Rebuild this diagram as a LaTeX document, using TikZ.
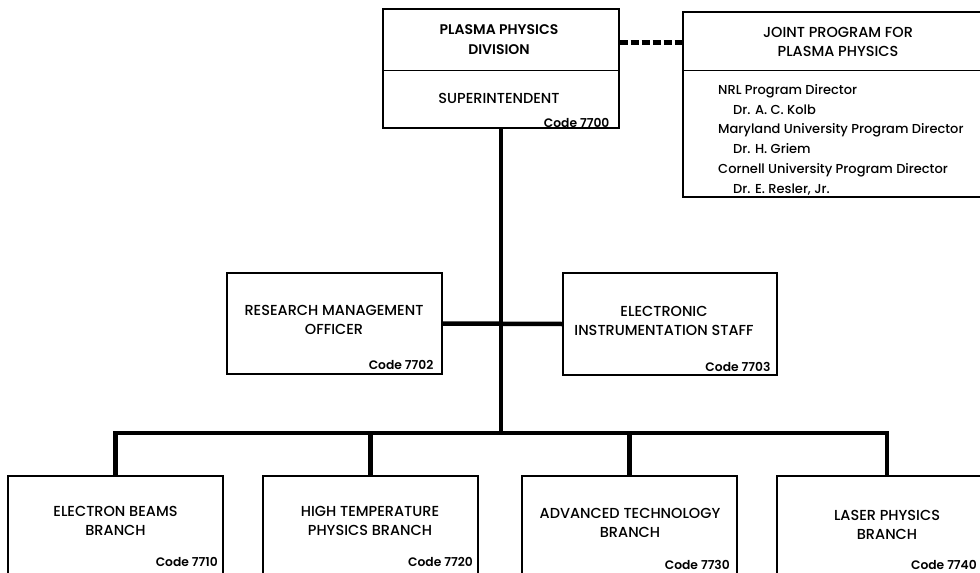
\documentclass[tikz,border=0pt]{standalone}
\usepackage{fontspec}
\setmainfont{Poppins}[UprightFont=*-Medium, BoldFont=*-SemiBold]
\usetikzlibrary{positioning,calc}

\begin{document}
\begin{tikzpicture}[x=1pt, y=-1pt,
  box/.style={draw, line width=1.2pt, inner sep=0pt},
  title/.style={align=center, inner sep=0pt, font=\fontsize{14.5}{19}\selectfont},
  head/.style={align=center, inner sep=0pt, font=\bfseries\fontsize{14}{20}\selectfont},
  code/.style={anchor=east, inner sep=0pt, font=\bfseries\fontsize{12.3}{13}\selectfont},
  names/.style={align=left, anchor=north west, inner sep=0pt, font=\fontsize{13}{19.8}\selectfont},
  link/.style={line width=4.5pt},
  divider/.style={line width=1.2pt},
]
  \clip (0,0) rectangle (980,573);

  % Top level
  \node[box, minimum width=236pt, minimum height=119pt] (div) at (501,68.5) {};
  \draw[divider] ($(div.north west)+(0,62)$) -- ($(div.north east)+(0,62)$);
  \node[head] (div-t) at (499,40) {PLASMA PHYSICS\\DIVISION};
  \node[title] (div-s) at (499,98) {SUPERINTENDENT};
  \node[code] (div-c) at ($(div.south east)+(-10,-6)$) {Code 7700};

  \node[box, minimum width=317pt, minimum height=185pt] (joint) at (841.5,104.5) {};
  \draw[divider] ($(joint.north west)+(0,59)$) -- ($(joint.north east)+(0,59)$);
  \node[title] (joint-t) at (838,42) {JOINT PROGRAM FOR\\PLASMA PHYSICS};
  \node[names] (joint-n) at (718,84) {NRL Program Director\\
    \hspace*{15pt}Dr. A. C. Kolb\\
    Maryland University Program Director\\
    \hspace*{15pt}Dr. H. Griem\\
    Cornell University Program Director\\
    \hspace*{15pt}Dr. E. Resler, Jr.};

  % Staff
  \node[box, minimum width=215pt, minimum height=101pt] (rmo) at (334.5,323.5) {};
  \node[title] (rmo-t) at (334,319.5) {RESEARCH MANAGEMENT\\OFFICER};
  \node[code] (rmo-c) at ($(rmo.south east)+(-9,-10)$) {Code 7702};

  \node[box, minimum width=214pt, minimum height=102pt] (eis) at (670,324) {};
  \node[title] (eis-t) at (664,321) {ELECTRONIC\\INSTRUMENTATION STAFF};
  \node[code] (eis-c) at ($(eis.south east)+(-7,-9)$) {Code 7703};

  % Branches
  \node[box, minimum width=215pt, minimum height=124pt] (ebb) at (115.5,538) {};
  \node[title] (ebb-t) at (115.5,521) {ELECTRON BEAMS\\BRANCH};
  \node[code] (ebb-c) at (218,562) {Code 7710};

  \node[box, minimum width=215pt, minimum height=124pt] (htb) at (370.5,538) {};
  \node[title] (htb-t) at (370,521) {HIGH TEMPERATURE\\PHYSICS BRANCH};
  \node[code] (htb-c) at (473,562) {Code 7720};

  \node[box, minimum width=215pt, minimum height=124pt] (atb) at (629.5,538) {};
  \node[title] (atb-t) at (630,523) {ADVANCED TECHNOLOGY\\BRANCH};
  \node[code] (atb-c) at (730,564.5) {Code 7730};

  \node[box, minimum width=220pt, minimum height=124pt] (lpb) at (887,538) {};
  \node[title] (lpb-t) at (887,524.5) {LASER PHYSICS\\BRANCH};
  \node[code] (lpb-c) at (977,564.5) {Code 7740};

  % Connectors
  \coordinate (bus) at (501,433);
  \coordinate (dash) at ($(div.north east)+(0,34)$);
  \draw[link, dash pattern=on 8pt off 3pt] (dash) -- (dash -| joint.west);
  \draw[link] (div.south) -- (bus);
  \draw[link] (rmo.east) -- (eis.west);
  \draw[link] (ebb.north) |- (bus) -| (lpb.north);
  \draw[link] (htb.north) -- (htb.north |- bus);
  \draw[link] (atb.north) -- (atb.north |- bus);
\end{tikzpicture}
\end{document}
